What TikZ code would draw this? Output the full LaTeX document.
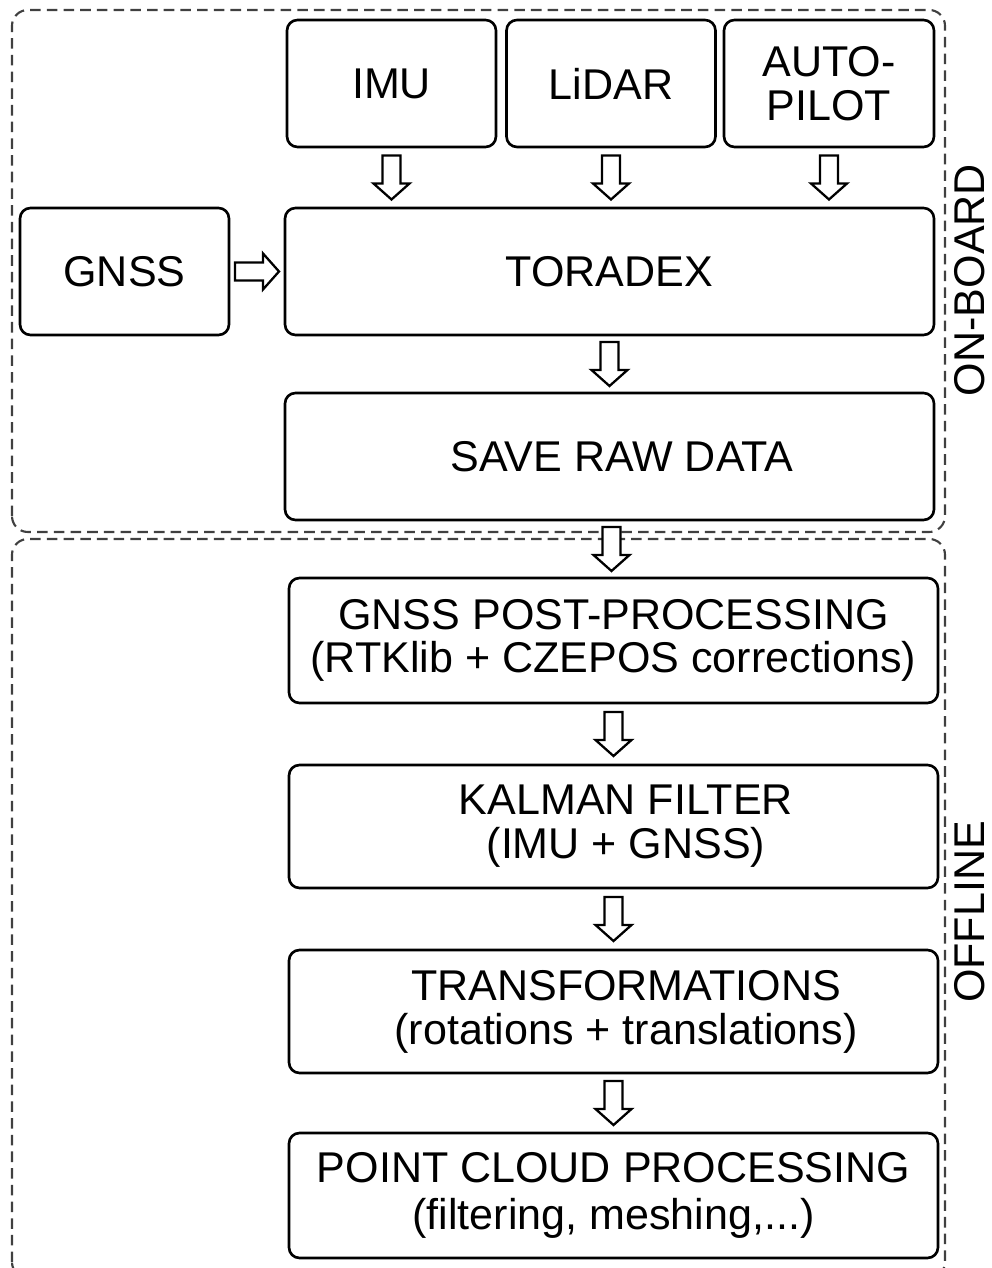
\documentclass[tikz,border=0pt]{standalone}
\usepackage{fontspec}
\setmainfont{Liberation Sans}
\usetikzlibrary{calc,positioning}

\begin{document}
\begin{tikzpicture}[
    box/.style={rectangle, draw, rounded corners=6pt, line width=1.5pt, align=center, font=\fontsize{24.5}{25}\selectfont, inner sep=0pt},
    smallbox/.style={box, minimum width=4.18cm, minimum height=2.54cm},
    widebox/.style={box, minimum width=12.98cm, minimum height=2.5cm},
    group/.style={draw=black!75, line width=1.2pt, dash pattern=on 6pt off 3.5pt, rounded corners=9pt},
    side/.style={rotate=90, font=\fontsize{24.5}{25}\selectfont},
    darr/.pic={\draw[line width=1.3pt, fill=white] (-0.18,0.44) -- (-0.18,-0.12) -- (-0.36,-0.12) -- (0,-0.44) -- (0.36,-0.12) -- (0.18,-0.12) -- (0.18,0.44) -- cycle;}
]
    \useasboundingbox (0,0) rectangle (19.84,25.36);

    % Dashed groups
    \draw[group] (0.24,14.72) rectangle (18.9,25.16);
    \draw[group] (0.24,-0.2) rectangle (18.9,14.58);
    \node[side] (onboard) at (19.4,19.76) {ON-BOARD};
    \node[side] (offline) at (19.4,7.12) {OFFLINE};

    % On-board sensors
    \node[smallbox] (imu) at (7.83,23.69) {IMU};
    \node[smallbox] (lidar) at (12.22,23.69) {LiDAR};
    \node[smallbox, minimum width=4.2cm] (autopilot) at (16.58,23.69) {AUTO-\\PILOT};
    \node[smallbox] (gnss) at (2.49,19.93) {GNSS};
    \node[widebox, minimum height=2.54cm] (toradex) at (12.19,19.93) {TORADEX};
    \node[widebox, minimum height=2.54cm] (raw) at (12.19,16.23) {\hspace*{0.5cm}SAVE RAW DATA};

    % Offline processing
    \node[widebox, font=\fontsize{24.5}{24}\selectfont] (post) at (12.27,12.55) {GNSS POST-PROCESSING\\(RTKlib + CZEPOS corrections)};
    \node[widebox, minimum height=2.46cm] (kalman) at (12.27,8.83) {\hspace*{0.5cm}KALMAN FILTER\\\hspace*{0.5cm}(IMU + GNSS)};
    \node[widebox, minimum height=2.46cm] (trans) at (12.27,5.13) {\hspace*{0.5cm}TRANSFORMATIONS\\\hspace*{0.5cm}(rotations + translations)};
    \node[widebox, font=\fontsize{24.5}{27}\selectfont] (cloud) at (12.27,1.45) {POINT CLOUD PROCESSING\\(filtering, meshing,...)};

    % Block arrows
    \foreach \n in {imu,lidar,autopilot}
        \pic at ($(\n.south)!0.5!(\n.south |- toradex.north)$) {darr};
    \pic[rotate=90] at ($(gnss.east)!0.5!(toradex.west)$) {darr};
    \foreach \a/\b in {toradex/raw, raw/post, post/kalman, kalman/trans, trans/cloud}
        \pic at ($(\a.south)!0.5!(\b.north)$) {darr};
\end{tikzpicture}
\end{document}
